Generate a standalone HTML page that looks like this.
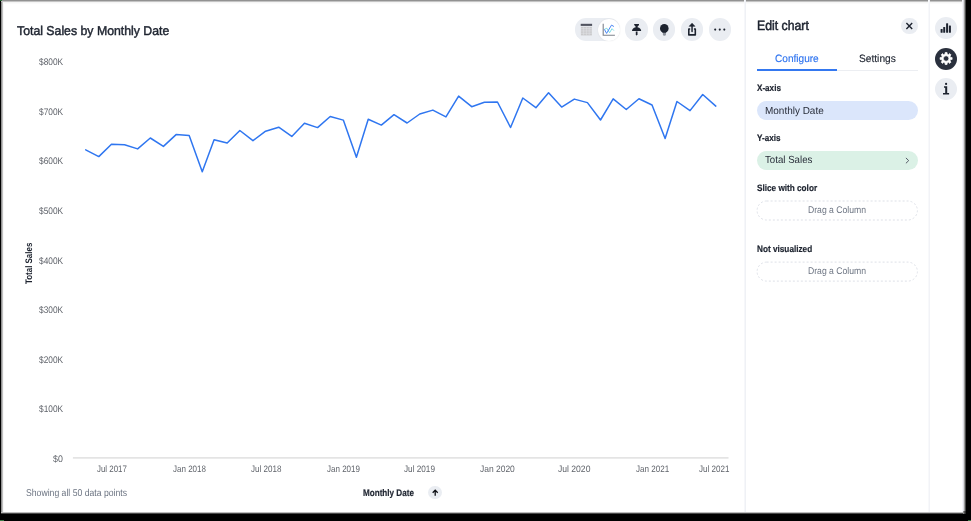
<!DOCTYPE html>
<html><head><meta charset="utf-8"><title>Edit chart</title>
<style>
html,body{margin:0;padding:0;background:#000;}
body{width:971px;height:521px;overflow:hidden;position:relative;font-family:'Liberation Sans',sans-serif;}
#page{position:absolute;left:0;top:0;width:966px;height:514px;background:#fff;overflow:hidden;}
.e{position:absolute;}
#root{position:absolute;left:0;top:0;width:971px;height:521px;will-change:transform;text-rendering:geometricPrecision;}
.t{position:absolute;white-space:nowrap;transform-origin:0 0;font-family:'Liberation Sans',sans-serif;}
.c{position:absolute;border-radius:50%;background:#eaedf2;}
.pill{position:absolute;left:756.6px;width:161.2px;box-sizing:border-box;border-radius:10px;}
.vline{position:absolute;top:0;width:1px;height:512px;background:#ededf0;}
svg{position:absolute;left:0;top:0;overflow:visible;}
</style></head><body>
<div id="page"></div>
<div class="e" style="left:0;top:0;width:4px;height:514px;background:linear-gradient(90deg,#000 0 1px,#929292 1px 2px,#c0c0c0 2px 3px,#f8f8f8 3px 4px);"></div>
<div class="e" style="left:1px;top:0;width:965px;height:2px;background:linear-gradient(#929292 0 1px,#c4c4c4 1px 2px);"></div>
<div class="e" style="left:3px;top:2px;width:963px;height:2px;background:linear-gradient(#f5f5f5 0 1px,#fbfbfb 1px 2px);"></div>
<div class="e" style="left:962px;top:0;width:4px;height:514px;background:linear-gradient(90deg,#f4f4fa 0 1px,#dcdce0 1px 2px,#9a9a9a 2px 3px,#484848 3px 4px);"></div>
<div class="e" style="left:0;top:512px;width:966px;height:2px;background:linear-gradient(#bdbdbd 0 1px,#484848 1px 2px);"></div>
<div class="e" style="left:963px;top:511px;width:3px;height:3px;background:linear-gradient(90deg,#8a8a8a 0 1px,#505050 1px 2px,#2a2a2a 2px 3px);"></div>
<div class="e" style="left:0;top:512px;width:1px;height:2px;background:#000;"></div>
<div class="e" style="left:0;top:0;width:2px;height:1px;background:#2f6b3b;"></div>
<div class="e" style="left:0;top:520px;width:4px;height:1px;background:#3b7a48;"></div>
<div class="e" style="left:968px;top:520px;width:3px;height:1px;background:#3b7a48;"></div>
<div id="root">
<div class="vline" style="left:744px;width:2px;background:linear-gradient(90deg,#f6f7fa 0 1px,#eff1f5 1px 2px)"></div>
<div class="vline" style="left:928px;width:2px;background:linear-gradient(90deg,#f8f9fb 0 1px,#f2f3f7 1px 2px)"></div>

<!-- toolbar -->
<div style="position:absolute;left:575.2px;top:18.4px;width:44.6px;height:22.2px;border-radius:11.1px;background:#eaedf2;"></div>
<div class="c" style="left:597.8px;top:18.5px;width:22px;height:22px;background:#fff;box-shadow:0 0 1.5px rgba(0,0,0,.10);"></div>
<div class="c" style="left:625.4px;top:18.4px;width:22.2px;height:22.2px;"></div>
<div class="c" style="left:653.3px;top:18.4px;width:22.2px;height:22.2px;"></div>
<div class="c" style="left:681px;top:18.4px;width:22.2px;height:22.2px;"></div>
<div class="c" style="left:708.9px;top:18.4px;width:22.2px;height:22.2px;"></div>

<!-- right rail circles -->
<div class="c" style="left:935px;top:17.3px;width:22px;height:22px;"></div>
<div class="c" style="left:935px;top:47.5px;width:22px;height:22px;background:#2a303d;"></div>
<div class="c" style="left:935px;top:78.1px;width:22px;height:22px;"></div>
<!-- close -->
<div class="c" style="left:901px;top:17.7px;width:16.6px;height:16.6px;"></div>
<!-- sort circle -->
<div class="c" style="left:428.3px;top:485.9px;width:13.6px;height:13.6px;"></div>

<!-- tabs underline -->
<div style="position:absolute;left:756.6px;top:69.7px;width:161.2px;height:1px;background:#eceef2;"></div>
<div style="position:absolute;left:756.6px;top:69px;width:80.4px;height:1.6px;background:#3478f0;"></div>

<!-- pills -->
<div class="pill" style="top:101.1px;height:19.2px;background:#dbe6fb;"></div>
<div class="pill" style="top:151px;height:19.2px;background:#dbf1e6;"></div>

<svg width="971" height="521" viewBox="0 0 971 521">
  <rect x="757.1" y="201.0" width="160.3" height="19.0" rx="9.5" fill="none" stroke="#dde0e7" stroke-width="1" stroke-dasharray="2 2"/>
  <rect x="757.1" y="262.1" width="160.3" height="19.0" rx="9.5" fill="none" stroke="#dde0e7" stroke-width="1" stroke-dasharray="2 2"/>
  <!-- axis -->
  <line x1="72.9" y1="457.9" x2="728.5" y2="457.9" stroke="#e4e4e4" stroke-width="1.6"/>
  <polyline points="85.70,149.80 98.79,156.60 111.46,144.30 124.55,144.80 137.65,148.90 150.31,138.00 163.41,146.40 176.08,134.60 189.17,135.50 202.26,171.80 214.09,139.80 227.18,143.00 239.85,130.50 252.94,140.70 265.61,131.20 278.70,127.20 291.79,136.40 304.46,123.30 317.55,127.60 330.22,116.50 343.32,120.10 356.41,157.30 368.23,119.20 381.32,125.10 393.99,114.70 407.09,123.00 419.76,114.00 432.85,110.10 445.94,116.90 458.61,96.10 471.70,106.70 484.37,102.20 497.46,102.00 510.55,127.50 522.80,98.00 535.89,107.70 548.56,92.70 561.65,107.10 574.32,99.10 587.42,102.60 600.51,120.00 613.18,98.80 626.27,109.50 638.94,98.80 652.03,105.00 665.12,138.50 676.95,101.50 690.04,110.60 702.71,94.50 715.80,106.10" fill="none" stroke="#2f76f0" stroke-width="1.5" stroke-linejoin="round" stroke-linecap="round"/>
  <rect x="580.7" y="23.8" width="11.4" height="2.1" fill="#50535f"/>
  <rect x="580.9" y="26.8" width="11.0" height="8.6" fill="#c9c9cb"/>
  <line x1="583.6" y1="26.8" x2="583.6" y2="35.4" stroke="#e3e4e8" stroke-width="0.5"/>
  <line x1="586.4" y1="26.8" x2="586.4" y2="35.4" stroke="#e3e4e8" stroke-width="0.5"/>
  <line x1="589.2" y1="26.8" x2="589.2" y2="35.4" stroke="#e3e4e8" stroke-width="0.5"/>
  <line x1="580.9" y1="28.5" x2="591.9" y2="28.5" stroke="#e3e4e8" stroke-width="0.5"/>
  <line x1="580.9" y1="30.2" x2="591.9" y2="30.2" stroke="#e3e4e8" stroke-width="0.5"/>
  <line x1="580.9" y1="31.9" x2="591.9" y2="31.9" stroke="#e3e4e8" stroke-width="0.5"/>
  <line x1="580.9" y1="33.6" x2="591.9" y2="33.6" stroke="#e3e4e8" stroke-width="0.5"/>
  <path d="M603.2,23.7 V35.2 H614.9" fill="none" stroke="#7d828c" stroke-width="1.1"/>
  <polyline points="604.4,29.4 606.8,28.2 609.6,32.7 612.0,28.7 613.9,30.6" fill="none" stroke="#6fd7e2" stroke-width="0.9" stroke-linejoin="round"/>
  <polyline points="604.4,29.4 606.6,33.4 611.5,25.1 613.9,26.5" fill="none" stroke="#4a86f5" stroke-width="1" stroke-linejoin="round"/>
  <path d="M634.2,23.9 H639 V25 L637.5,26.7 V27.2 C640,27.8 641.2,29.4 641.2,31 H632 C632,29.4 633.2,27.8 635.7,27.2 V26.7 L634.2,25 Z" fill="#1d232f"/>
  <path d="M635.8,31.6 h1.7 v2.7 l-0.85,1.4 l-0.85,-1.4 z" fill="#1d232f"/>
  <circle cx="664.3" cy="28.4" r="4.3" fill="#1d232f"/>
  <path d="M662.2,31.6 H666.4 L665.9,32.9 H662.8 Z" fill="#1d232f"/>
  <path d="M662.9,32.8 H665.9 V34.6 Q665.9,35.8 664.4,35.8 Q662.9,35.8 662.9,34.6 Z" fill="#8a8f99"/>
  <path d="M690.2,29 H688.8 V34.9 H695.3 V29 H693.9" fill="none" stroke="#1d232f" stroke-width="1.6" stroke-linejoin="round"/>
  <line x1="692.05" y1="25" x2="692.05" y2="31.6" stroke="#1d232f" stroke-width="1.5" stroke-linecap="round"/>
  <path d="M692.05,23.2 L694.9,26.3 H689.2 Z" fill="#1d232f" stroke="#1d232f" stroke-width="0.6" stroke-linejoin="round"/>
  <circle cx="715.2" cy="29.6" r="1.05" fill="#1d232f"/>
  <circle cx="719.75" cy="29.6" r="1.05" fill="#1d232f"/>
  <circle cx="724.3" cy="29.6" r="1.05" fill="#1d232f"/>
  <rect x="940.6" y="29.0" width="2" height="3.7" rx="0.5" fill="#1d232f"/>
  <rect x="943.2" y="27.0" width="2" height="5.7" rx="0.5" fill="#1d232f"/>
  <rect x="946.1" y="23.2" width="2" height="9.5" rx="0.5" fill="#1d232f"/>
  <rect x="948.9" y="25.4" width="2" height="7.3" rx="0.5" fill="#1d232f"/>
  <path d="M945.13,54.00 L945.15,52.48 L947.05,52.48 L947.07,54.00 L948.60,54.64 L949.69,53.56 L951.04,54.91 L949.96,56.00 L950.60,57.53 L952.12,57.55 L952.12,59.45 L950.60,59.47 L949.96,61.00 L951.04,62.09 L949.69,63.44 L948.60,62.36 L947.07,63.00 L947.05,64.52 L945.15,64.52 L945.13,63.00 L943.60,62.36 L942.51,63.44 L941.16,62.09 L942.24,61.00 L941.60,59.47 L940.08,59.45 L940.08,57.55 L941.60,57.53 L942.24,56.00 L941.16,54.91 L942.51,53.56 L943.60,54.64Z M943.35,58.50 a2.75,2.75 0 1,0 5.5,0 a2.75,2.75 0 1,0 -5.5,0Z" fill="#fff" fill-rule="evenodd" stroke="#fff" stroke-width="0.7" stroke-linejoin="round"/>
  <circle cx="946.1" cy="83.9" r="1.1" fill="#1d232f"/>
  <path d="M944,86.2 H947.2 V93 H949.1 V94.6 H943 V93 H945.2 V87.7 H944 Z" fill="#1d232f"/>
  <path d="M906.4,23.1 L912.2,28.9 M912.2,23.1 L906.4,28.9" stroke="#1d232f" stroke-width="1.4" fill="none"/>
  <path d="M435.2,495.8 V490.4 M432.7,492.7 L435.2,490.1 L437.7,492.7" stroke="#0c0e13" stroke-width="1.3" fill="none" stroke-linejoin="miter"/>
  <path d="M905.9,157.9 L908.7,160.6 L905.9,163.3" stroke="#555a66" stroke-width="1" fill="none"/>
</svg>
<span class="t" style="left:17.10px;top:24.95px;font-size:12.8px;line-height:12.8px;font-weight:400;color:#1d232f;transform:scaleX(0.9601);-webkit-text-stroke:0.45px #1d232f;">Total Sales by Monthly Date</span><span class="t" style="left:53.20px;top:454.95px;font-size:9.5px;line-height:9.5px;font-weight:400;color:#60646b;transform:scaleX(0.9264);">$0</span><span class="t" style="left:38.90px;top:404.95px;font-size:9.5px;line-height:9.5px;font-weight:400;color:#60646b;transform:scaleX(0.8769);">$100K</span><span class="t" style="left:38.90px;top:355.95px;font-size:9.5px;line-height:9.5px;font-weight:400;color:#60646b;transform:scaleX(0.8769);">$200K</span><span class="t" style="left:38.90px;top:305.95px;font-size:9.5px;line-height:9.5px;font-weight:400;color:#60646b;transform:scaleX(0.8769);">$300K</span><span class="t" style="left:38.90px;top:256.95px;font-size:9.5px;line-height:9.5px;font-weight:400;color:#60646b;transform:scaleX(0.8769);">$400K</span><span class="t" style="left:38.90px;top:206.95px;font-size:9.5px;line-height:9.5px;font-weight:400;color:#60646b;transform:scaleX(0.8769);">$500K</span><span class="t" style="left:38.90px;top:156.95px;font-size:9.5px;line-height:9.5px;font-weight:400;color:#60646b;transform:scaleX(0.8769);">$600K</span><span class="t" style="left:38.90px;top:107.95px;font-size:9.5px;line-height:9.5px;font-weight:400;color:#60646b;transform:scaleX(0.8769);">$700K</span><span class="t" style="left:38.90px;top:57.95px;font-size:9.5px;line-height:9.5px;font-weight:400;color:#60646b;transform:scaleX(0.8769);">$800K</span><span class="t" style="left:96.75px;top:463.95px;font-size:9.4px;line-height:9.4px;font-weight:400;color:#60646b;transform:scaleX(0.8434);">Jul 2017</span><span class="t" style="left:172.80px;top:463.95px;font-size:9.4px;line-height:9.4px;font-weight:400;color:#60646b;transform:scaleX(0.8554);">Jan 2018</span><span class="t" style="left:250.70px;top:463.95px;font-size:9.4px;line-height:9.4px;font-weight:400;color:#60646b;transform:scaleX(0.8575);">Jul 2018</span><span class="t" style="left:327.10px;top:463.95px;font-size:9.4px;line-height:9.4px;font-weight:400;color:#60646b;transform:scaleX(0.8554);">Jan 2019</span><span class="t" style="left:404.30px;top:463.95px;font-size:9.4px;line-height:9.4px;font-weight:400;color:#60646b;transform:scaleX(0.8744);">Jul 2019</span><span class="t" style="left:479.90px;top:463.95px;font-size:9.4px;line-height:9.4px;font-weight:400;color:#60646b;transform:scaleX(0.9021);">Jan 2020</span><span class="t" style="left:558.30px;top:463.95px;font-size:9.4px;line-height:9.4px;font-weight:400;color:#60646b;transform:scaleX(0.9139);">Jul 2020</span><span class="t" style="left:635.70px;top:463.95px;font-size:9.4px;line-height:9.4px;font-weight:400;color:#60646b;transform:scaleX(0.8606);">Jan 2021</span><span class="t" style="left:698.70px;top:463.95px;font-size:9.4px;line-height:9.4px;font-weight:400;color:#60646b;transform:scaleX(0.8575);">Jul 2021</span><span class="t" style="left:25.90px;top:488.95px;font-size:9.9px;line-height:9.9px;font-weight:400;color:#6c7482;transform:scaleX(0.8769);">Showing all 50 data points</span><span class="t" style="left:363.40px;top:488.95px;font-size:9.6px;line-height:9.6px;font-weight:700;color:#1d232f;transform:scaleX(0.8450);-webkit-text-stroke:0.2px #1d232f;">Monthly Date</span><span class="t" style="left:757.10px;top:18.95px;font-size:13.4px;line-height:13.4px;font-weight:400;color:#1d232f;transform:scaleX(0.9155);-webkit-text-stroke:0.5px #1d232f;">Edit chart</span><span class="t" style="left:774.80px;top:53.95px;font-size:10.6px;line-height:10.6px;font-weight:400;color:#2f74ef;transform:scaleX(0.9513);-webkit-text-stroke:0.15px #2f74ef;">Configure</span><span class="t" style="left:859.00px;top:53.95px;font-size:10.6px;line-height:10.6px;font-weight:400;color:#1d232f;transform:scaleX(0.9613);-webkit-text-stroke:0.15px #1d232f;">Settings</span><span class="t" style="left:756.60px;top:83.95px;font-size:9.3px;line-height:9.3px;font-weight:700;color:#1d232f;transform:scaleX(0.8721);-webkit-text-stroke:0.2px #1d232f;">X-axis</span><span class="t" style="left:765.10px;top:106.95px;font-size:10.3px;line-height:10.3px;font-weight:400;color:#272c38;transform:scaleX(0.9675);">Monthly Date</span><span class="t" style="left:756.70px;top:133.95px;font-size:9.3px;line-height:9.3px;font-weight:700;color:#1d232f;transform:scaleX(0.8702);-webkit-text-stroke:0.2px #1d232f;">Y-axis</span><span class="t" style="left:765.00px;top:155.95px;font-size:10.3px;line-height:10.3px;font-weight:400;color:#272c38;transform:scaleX(0.9409);">Total Sales</span><span class="t" style="left:756.70px;top:183.95px;font-size:9.3px;line-height:9.3px;font-weight:700;color:#1d232f;transform:scaleX(0.8812);-webkit-text-stroke:0.2px #1d232f;">Slice with color</span><span class="t" style="left:808.00px;top:205.95px;font-size:9.7px;line-height:9.7px;font-weight:400;color:#6c7482;transform:scaleX(0.8917);">Drag a Column</span><span class="t" style="left:756.90px;top:244.95px;font-size:9.3px;line-height:9.3px;font-weight:700;color:#1d232f;transform:scaleX(0.8830);-webkit-text-stroke:0.2px #1d232f;">Not visualized</span><span class="t" style="left:808.00px;top:266.95px;font-size:9.7px;line-height:9.7px;font-weight:400;color:#6c7482;transform:scaleX(0.8917);">Drag a Column</span>
<span class="t" style="left:24.95px;top:284.3px;font-size:9.5px;line-height:9.5px;font-weight:700;color:#1d232f;transform:rotate(-90deg) scaleX(0.8351);">Total Sales</span>
</div>
</body></html>
